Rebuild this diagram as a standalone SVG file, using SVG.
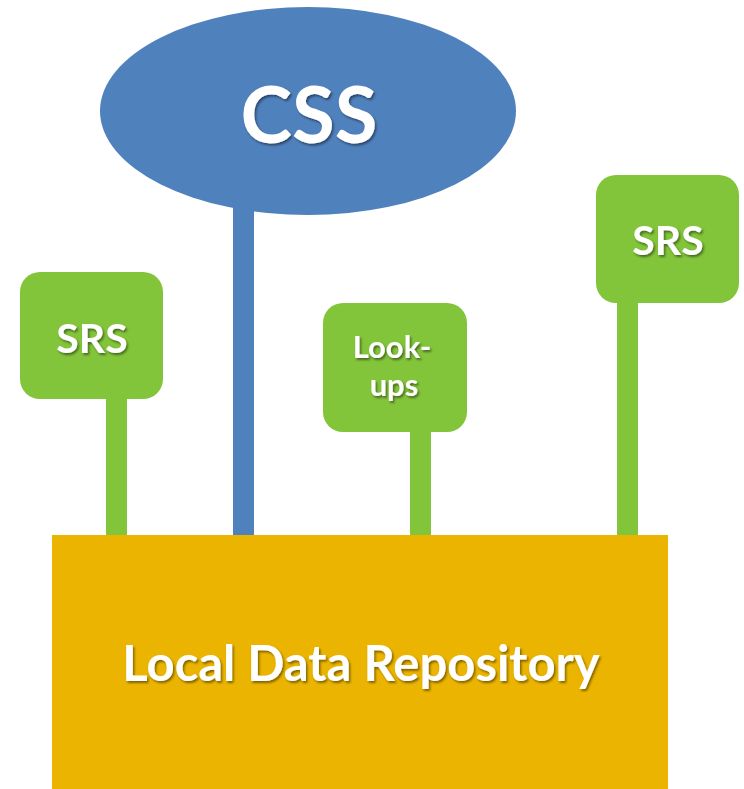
<svg xmlns="http://www.w3.org/2000/svg" width="744" height="789" viewBox="0 0 744 789">
<defs>
<filter id="ts" x="-20%" y="-20%" width="140%" height="140%">
<feDropShadow dx="1.5" dy="2" stdDeviation="1.2" flood-color="#000" flood-opacity="0.45"/>
</filter>
</defs>
<style>
.lbl{font-family:Lato,"Open Sans","Liberation Sans",sans-serif;font-weight:bold;fill:#fff;text-anchor:middle;filter:url(#ts)}
.green{fill:#82C43A}
.blue{fill:#4F81BD}
.orange{fill:#EBB400}
</style>
<rect width="744" height="789" fill="#fff"/>
<g id="connectors">
<rect class="blue" x="233" y="190" width="21" height="346"/>
<rect class="green" x="106" y="390" width="21" height="146"/>
<rect class="green" x="410" y="420" width="21" height="116"/>
<rect class="green" x="617" y="295" width="21" height="241"/>
</g>
<g id="repo">
<rect class="orange" x="52" y="535" width="616" height="254"/>
<text class="lbl" x="361" y="681" font-size="49">Local Data Repository</text>
</g>
<g id="css">
<ellipse class="blue" cx="308" cy="111" rx="208" ry="104"/>
<text class="lbl" x="309" y="143" font-size="78">CSS</text>
</g>
<g id="srs-left">
<rect class="green" x="20" y="272" width="143" height="127" rx="20"/>
<text class="lbl" x="92" y="353" font-size="41">SRS</text>
</g>
<g id="lookups">
<rect class="green" x="323" y="303" width="144" height="129" rx="20"/>
<text class="lbl" x="392" y="358" font-size="31">Look-</text>
<text class="lbl" x="394" y="396" font-size="31">ups</text>
</g>
<g id="srs-right">
<rect class="green" x="596" y="175" width="143" height="128" rx="20"/>
<text class="lbl" x="668" y="255" font-size="41">SRS</text>
</g>
</svg>
